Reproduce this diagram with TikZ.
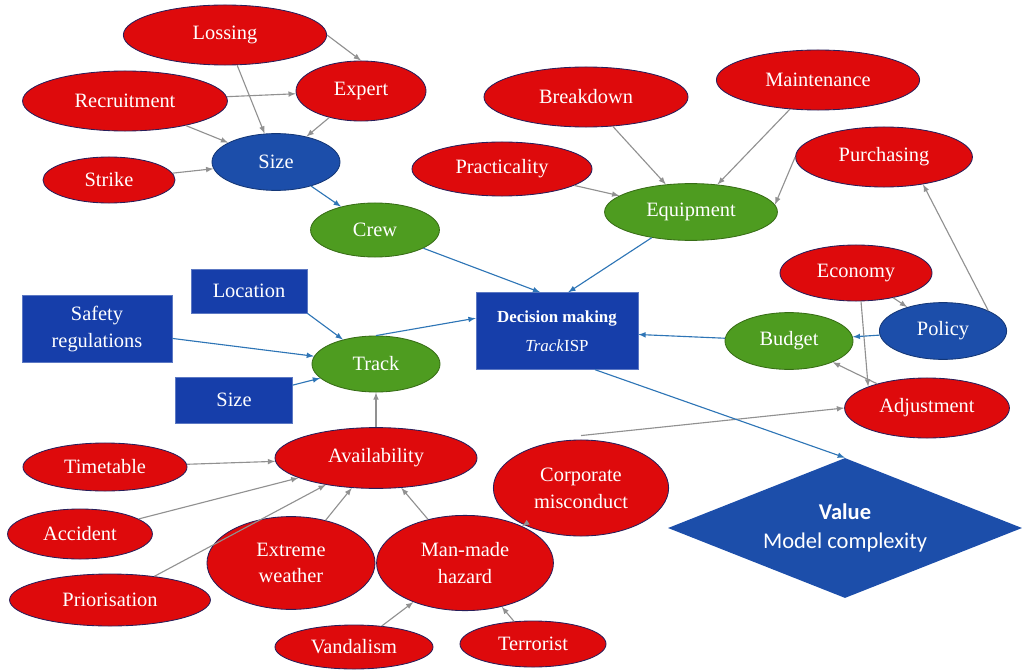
\documentclass[tikz,border=0pt]{standalone}
\usepackage{fontspec}
\setmainfont{Liberation Serif}
\newfontfamily\nodefont{Liberation Serif}
\newfontfamily\valfont{Carlito}
\usepackage{xcolor}
\usepackage{tikz}
\usetikzlibrary{arrows,shapes}

\definecolor{riskred}{RGB}{222,10,12}
\definecolor{nodeblue}{RGB}{28,78,170}
\definecolor{boxblue}{RGB}{22,62,170}
\definecolor{nodegreen}{RGB}{78,156,32}
\definecolor{rimblue}{RGB}{40,30,90}
\definecolor{linkgray}{RGB}{145,145,145}
\definecolor{linkblue}{RGB}{46,117,182}

\tikzset{
  factor/.style={ellipse, draw=rimblue, fill=riskred, text=white, inner sep=0pt,
    line width=0.6pt, align=center, font=\nodefont\fontsize{14.5}{19}\selectfont},
  core/.style={factor, fill=nodegreen, draw=nodegreen!70!black},
  sub/.style={factor, fill=nodeblue, draw=nodeblue!70!black},
  boxnode/.style={rectangle, fill=boxblue, draw=boxblue!70!white, text=white, inner sep=0pt,
    align=center, font=\nodefont\fontsize{14.5}{19}\selectfont},
  influence/.style={->, >=latex, color=linkgray, line width=0.8pt},
  flow/.style={->, >=latex, color=linkblue, line width=0.8pt},
}

\begin{document}
\begin{tikzpicture}[x=0.025cm, y=-0.025cm]
		\useasboundingbox (0,0) rectangle (1023,669);
		% crew
		\node[factor, minimum width=5.08cm, minimum height=1.5cm] (lossing) at (225,35) {Lossing};
		\node[factor, minimum width=3.25cm, minimum height=1.5cm] (expert) at (361,91) {Expert};
		\node[factor, minimum width=5.12cm, minimum height=1.5cm] (recruit) at (125,101) {Recruitment};
		\node[sub, minimum width=3.2cm, minimum height=1.42cm] (crewsize) at (276,162) {Size};
		\node[factor, minimum width=3.3cm, minimum height=1.15cm] (strike) at (109,180) {Strike};
		\node[core, minimum width=3.22cm, minimum height=1.35cm] (crew) at (375,230) {Crew};
		% equipment
		\node[factor, minimum width=5.1cm, minimum height=1.5cm] (breakdown) at (586,97) {Breakdown};
		\node[factor, minimum width=5.08cm, minimum height=1.5cm] (maint) at (818,80) {Maintenance};
		\node[factor, minimum width=4.5cm, minimum height=1.35cm] (practic) at (502,169) {Practicality};
		\node[factor, minimum width=4.42cm, minimum height=1.5cm] (purch) at (884,157) {Purchasing};
		\node[core, minimum width=4.32cm, minimum height=1.42cm] (equip) at (691,212) {Equipment};
		% budget
		\node[factor, minimum width=3.8cm, minimum height=1.4cm] (economy) at (856,273) {Economy};
		\node[sub, minimum width=3.18cm, minimum height=1.42cm] (policy) at (943,331) {Policy};
		\node[core, minimum width=3.2cm, minimum height=1.42cm] (budget) at (789,341) {Budget};
		\node[factor, minimum width=4.12cm, minimum height=1.5cm] (adjust) at (927,408) {Adjustment};
		% centre
		\node[boxnode, minimum width=4.05cm, minimum height=1.92cm, font=\nodefont\fontsize{12}{21}\selectfont] (decision) at (557,331) {\textbf{Decision making}\\\textit{Track}ISP};
		\node[diamond, aspect=2.5, fill=nodeblue, text=white, inner sep=0pt, minimum width=8.85cm, minimum height=3.5cm,
			align=center, font=\valfont\fontsize{16}{21}\selectfont] (value) at (845,528) {\textbf{Value}\\Model complexity};
		% track
		\node[boxnode, minimum width=2.9cm, minimum height=1.1cm] (location) at (249,291) {Location};
		\node[boxnode, minimum width=3.75cm, minimum height=1.68cm] (safety) at (97,329) {Safety\\regulations};
		\node[boxnode, minimum width=2.92cm, minimum height=1.15cm] (tracksize) at (234,400) {Size};
		\node[core, minimum width=3.2cm, minimum height=1.4cm] (track) at (376,364) {Track};
		% availability
		\node[factor, minimum width=5.05cm, minimum height=1.52cm] (avail) at (376,458) {Availability};
		\node[factor, minimum width=4.1cm, minimum height=1.2cm] (timetable) at (105,467) {Timetable};
		\node[factor, minimum width=3.62cm, minimum height=1.25cm] (accident) at (80,534) {Accident};
		\node[factor, minimum width=5.02cm, minimum height=1.3cm] (prior) at (110,600) {Priorisation};
		\node[factor, minimum width=4.2cm, minimum height=2.32cm] (weather) at (291,563) {Extreme\\weather};
		\node[factor, minimum width=4.42cm, minimum height=2.38cm] (hazard) at (465,563) {Man-made\\hazard};
		\node[factor, minimum width=4.38cm, minimum height=2.4cm] (corporate) at (581,488) {Corporate\\misconduct};
		\node[factor, minimum width=3.95cm, minimum height=1.1cm] (vandal) at (354,647) {Vandalism};
		\node[factor, minimum width=3.65cm, minimum height=1.15cm] (terror) at (533,644) {Terrorist};
		%
		\path[influence]
		(lossing.east) edge (expert.north)
		(lossing) edge (crewsize)
		(recruit) edge (expert)
		(recruit) edge (crewsize)
		(expert) edge (crewsize)
		(strike) edge (crewsize)
		(breakdown) edge (equip)
		(maint) edge (equip)
		(practic) edge (equip)
		(purch.west) edge (equip.5)
		(policy.north east) edge (purch.-35)
		(economy) edge (policy)
		(economy.-80) edge (adjust.160)
		(adjust) edge (budget)
		([yshift=0.1cm]corporate.north) edge (adjust.west)
		(avail) edge (track)
		(timetable) edge (avail)
		(accident) edge (avail)
		(prior) edge (avail)
		(weather) edge (avail)
		(hazard) edge (avail)
		(corporate) edge (hazard)
		(vandal) edge (hazard)
		(terror) edge (hazard);
		%
		\path[flow]
		(crewsize) edge (crew)
		(crew) edge ([xshift=-0.42cm]decision.north)
		(equip) edge ([xshift=0.28cm]decision.north)
		(policy) edge (budget)
		(budget) edge (decision)
		(location.south east) edge (track)
		(safety) edge (track)
		(tracksize) edge (track)
		(track.north) edge ([yshift=0.32cm]decision.west)
		([xshift=0.95cm]decision.south) edge (value.north);
\end{tikzpicture}
\end{document}
